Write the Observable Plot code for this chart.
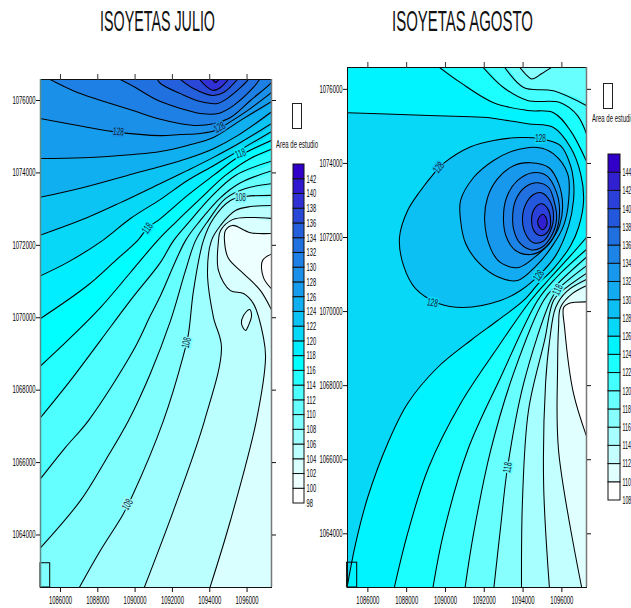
<!DOCTYPE html>
<html><head><meta charset="utf-8">
<script src="https://cdn.jsdelivr.net/npm/d3@7"></script>
<script src="https://cdn.jsdelivr.net/npm/@observablehq/plot@0.6"></script>
<style>
html,body{margin:0;padding:0;background:#fff;width:631px;height:608px;overflow:hidden;font-family:"Liberation Sans",Arial,sans-serif}
#page{position:relative;width:631px;height:608px;overflow:hidden}
#page>svg,#page>figure{position:absolute;margin:0}
.t{position:absolute;white-space:nowrap;transform-origin:left center;color:#111}
.swatch{position:absolute;box-sizing:border-box;border:1px solid #222;background:#fff}
</style></head><body><div id="page"></div>
<script>
// Map coordinates in km, as [east - 1080, north - 1060]
const xTicks=[1086000,1088000,1090000,1092000,1094000,1096000];
const yTicks=[1064000,1066000,1068000,1070000,1072000,1074000,1076000];

const julBands=[98,100,102,104,106,108,110,112,114,116,118,120,122,124,126,128,130,132,134,136,138,140,142];
const julColors=["#ffffff","#eeffff","#d9ffff","#bbffff","#9dffff","#80ffff","#66ffff","#4dffff","#26ffff","#00ffff","#00eeff","#08d8f8","#0cc4f4","#10b0f0","#169cec","#1a90e8","#1e80e4","#2070e0","#2460dc","#2a48d8","#3030d4","#3018d0","#3000c8"];
const augBands=[108,110,112,114,116,118,120,122,124,126,128,130,132,134,136,138,140,142,144];
const augColors=["#ffffff","#e0ffff","#c4ffff","#a8ffff","#88ffff","#68ffff","#44ffff","#1cffff","#00f4ff","#08d8f8","#0cc0f4","#12aaf0","#1898ec","#1c84e6","#2070e0","#2458dc","#2a40d8","#3020d0","#3000c8"];

// ---- July contours
const jul100=[[17.4,11.78],[16.83,11.58],[16.88,11.11],[17.4,10.75]];
const jul102=[[17.4,12.33],[16.18,12.35],[15.22,12.55],[14.84,12.41],[14.79,12.13],[15.00,11.64],[15.81,11.22],[16.72,10.75],[17.4,10.12]];
const jul104=[[13.92,2.4],[15.11,4.40],[16.50,7.16],[16.99,8.90],[16.88,9.45],[16.34,10.39],[15.81,10.67],[15.11,10.75],[14.47,11.30],[14.47,12.13],[14.58,12.41],[15.22,12.71],[16.18,12.77],[17.4,12.74]];
const jul106=[[10.38,2.4],[12.06,4.68],[13.72,7.16],[14.63,9.18],[14.20,10.01],[13.88,11.22],[14.09,12.13],[14.58,12.55],[15.38,12.96],[16.18,13.07],[17.4,13.10]];
const jul108=[[6.85,2.4],[8.14,3.57],[9.32,4.54],[9.86,5.09],[11.52,7.16],[12.59,8.96],[12.86,9.56],[13.13,10.75],[13.66,12.13],[14.20,12.74],[15.11,13.24],[15.92,13.35],[17.4,13.38]];
const jul110=[[4.85,3.60],[7.07,4.95],[8.41,6.06],[9.65,7.16],[10.82,8.46],[11.90,9.92],[12.70,11.30],[13.24,12.13],[13.93,12.69],[14.84,13.29],[15.92,13.57],[17.4,13.71]];
const jul112=[[4.85,5.50],[6.27,6.42],[7.50,7.16],[9.91,9.10],[10.82,10.06],[11.36,10.61],[12.70,12.13],[13.50,12.69],[14.58,13.32],[15.65,13.73],[17.4,14.07]];
const jul114=[[4.85,7.19],[6.54,8.27],[8.14,9.37],[9.75,10.48],[11.36,11.53],[12.06,12.13],[12.97,12.69],[14.04,13.32],[15.38,13.93],[17.4,14.34]];
const jul116=[[4.85,8.63],[6.54,9.45],[8.14,10.28],[9.75,11.25],[11.20,12.13],[12.16,12.63],[13.50,13.29],[14.84,13.93],[16.18,14.40],[17.4,14.67]];
const jul118=[[4.85,9.95],[7.45,10.89],[8.95,11.58],[10.13,12.13],[10.66,12.47],[11.36,12.74],[12.81,13.38],[14.20,13.93],[15.65,14.48],[17.4,14.92]];
const jul120=[[4.85,11.14],[6.38,11.53],[8.25,12.13],[9.75,12.74],[11.36,13.27],[12.81,13.79],[14.20,14.20],[15.38,14.56],[17.4,15.17]];
const jul122=[[4.85,12.27],[7.45,12.77],[9.22,13.18],[11.36,13.71],[12.81,14.07],[14.20,14.43],[15.65,14.84],[17.4,15.39]];
const jul124=[[4.85,13.32],[7.23,13.60],[9.91,13.98],[11.36,14.18],[12.81,14.40],[14.20,14.67],[15.49,15.03],[17.4,15.72]];
const jul126=[[4.85,14.40],[7.23,14.42],[9.91,14.51],[11.36,14.59],[12.81,14.76],[14.20,14.98],[15.65,15.45],[17.4,16.0]];
const jul128=[[4.85,15.51],[7.23,15.28],[8.84,15.14],[11.36,15.03],[12.43,15.06],[13.50,15.09],[14.31,15.17],[14.95,15.36],[16.02,15.72],[17.4,16.26]];
const jul130=[[5.30,16.62],[6.91,16.22],[8.68,15.92],[10.02,15.70],[11.36,15.48],[12.43,15.36],[13.34,15.31],[14.20,15.36],[15.11,15.53],[16.18,16.00],[17.31,16.50],[17.45,16.62]];
const jul132=[[9.05,16.62],[10.02,16.36],[10.82,16.11],[11.36,15.97],[12.43,15.78],[13.50,15.64],[14.47,15.64],[15.27,15.86],[16.34,16.36],[16.72,16.62]];
const jul134=[[11.15,16.62],[11.36,16.47],[12.43,16.19],[13.50,15.97],[14.42,15.92],[15.00,16.08],[16.02,16.55],[16.1,16.62]];
const jul136=[[12.33,16.62],[13.13,16.33],[14.15,16.14],[14.74,16.22],[15.55,16.62]];
const jul138=[[13.40,16.62],[13.77,16.41],[14.20,16.28],[14.58,16.36],[15.05,16.62]];
const jul140=[[14.10,16.62],[14.31,16.50],[14.55,16.62]];
const julIsland=[[16.13,10.23],[16.24,10.06],[16.08,9.79],[15.92,9.65],[15.70,9.84],[15.81,10.06]];

// ---- August contours
const aug110=[[17.48,6.33],[16.60,7.79],[16.14,9.57],[16.09,10.11],[16.35,10.22],[17.48,10.26]];
const aug112=[[17.08,2.4],[15.83,6.25],[15.78,8.49],[15.83,9.57],[15.93,10.11],[16.55,10.49],[17.48,10.75]];
const aug114=[[15.37,2.47],[15.06,5.36],[15.16,8.06],[15.37,9.22],[15.68,10.11],[16.24,10.54],[17.48,10.92]];
const aug116=[[13.92,2.47],[13.97,4.90],[14.28,7.33],[15.11,9.22],[15.57,10.30],[16.09,10.59],[17.48,11.11]];
const aug118=[[12.48,2.47],[12.84,4.17],[13.20,5.79],[14.03,8.06],[15.42,10.30],[15.78,10.59],[17.48,11.32]];
const aug120=[[10.99,2.47],[11.45,4.01],[12.33,6.25],[13.51,8.33],[15.06,10.30],[15.78,10.75],[17.48,11.57]];
const aug122=[[9.33,2.47],[9.90,4.01],[11.14,6.25],[12.84,8.22],[14.75,10.30],[15.68,10.90],[17.48,11.78]];
const aug124=[[7.33,2.47],[8.05,4.01],[9.13,5.79],[10.78,7.52],[12.69,9.03],[14.39,10.30],[15.42,10.92],[16.45,11.51],[17.48,12.13]];
const aug118Top=[[13.72,16.67],[14.15,16.40],[14.45,16.28],[14.95,16.42],[15.68,16.67]];
const aug120Top=[[17.48,15.50],[15.57,15.96],[14.03,16.05],[12.95,16.67]];
const aug122Top=[[17.48,14.48],[16.81,15.29],[15.93,15.64],[14.23,15.70],[12.99,16.05],[11.81,16.67]];
const aug124Top=[[17.48,13.81],[16.45,14.88],[15.57,15.37],[14.23,15.43],[12.48,15.64],[10.78,16.18],[9.49,16.67]];
const aug126=[[4.85,15.37],[7.69,15.32],[11.30,15.26],[12.17,15.24],[14.23,15.07],[15.57,14.97],[16.45,14.43],[16.97,13.72],[17.12,13.00],[16.86,12.27],[16.45,11.78],[15.57,11.16],[14.80,10.76],[14.03,10.30],[12.69,9.76],[11.30,9.22],[9.59,8.49],[8.05,7.52],[7.02,6.44],[5.99,4.98],[5.37,3.74],[4.90,2.47]];
const aug128=[[14.90,14.67],[15.93,14.48],[16.45,13.94],[16.60,13.54],[16.60,13.00],[16.35,12.32],[15.68,11.51],[14.80,10.97],[13.87,10.57],[12.84,10.30],[10.93,10.11],[9.65,10.22],[8.46,10.62],[7.84,11.24],[7.63,12.00],[8.05,12.73],[8.72,13.27],[9.39,13.72],[9.90,14.00],[11.30,14.45],[12.48,14.62],[13.87,14.70]];
const aug130=[[14.75,14.43],[15.57,14.26],[16.30,13.72],[16.35,13.00],[16.09,12.32],[15.52,11.78],[14.65,11.22],[13.72,10.84],[12.69,10.94],[11.71,11.32],[11.04,11.84],[10.78,12.46],[10.78,13.00],[11.45,13.62],[12.48,14.08],[13.51,14.34]];
const aug132=[[12.02,12.46],[12.17,13.08],[12.69,13.59],[13.51,13.94],[14.39,14.02],[15.32,13.89],[15.83,13.46],[16.04,12.86],[15.88,12.32],[15.42,11.89],[14.65,11.49],[13.77,11.19],[12.84,11.32],[12.33,11.70]];
const aug134=[[12.99,12.46],[13.15,13.08],[13.72,13.54],[14.49,13.75],[15.21,13.67],[15.73,13.21],[15.88,12.67],[15.68,12.13],[15.16,11.73],[14.39,11.54],[13.61,11.65],[13.15,12.00]];
const aug136=[[13.46,12.46],[13.61,13.00],[14.13,13.37],[14.75,13.48],[15.32,13.35],[15.62,12.94],[15.73,12.51],[15.47,12.05],[14.95,11.73],[14.39,11.67],[13.82,11.86],[13.56,12.13]];
const aug138=[[13.97,12.46],[14.13,12.89],[14.54,13.16],[14.95,13.21],[15.37,13.00],[15.57,12.62],[15.42,12.19],[15.01,11.89],[14.54,11.86],[14.18,12.05]];
const aug140=[[14.44,12.46],[14.59,12.78],[14.95,12.91],[15.27,12.78],[15.42,12.46],[15.32,12.19],[14.95,12.05],[14.59,12.16]];
const aug142=[[14.75,12.43],[14.85,12.56],[15.01,12.63],[15.16,12.56],[15.24,12.40],[15.16,12.27],[15.01,12.21],[14.85,12.27]];

// contour labels: east, north, text, angle, band behind
const julLabelX=[9.11,14.52,10.66,15.65,15.65,12.75,9.59];
const julLabelY=[15.14,15.26,12.47,14.54,13.32,9.31,4.84];
const julLabelT=["128","128","118","118","108","108","108"];
const julLabelR=[4,-28,-55,-20,0,-75,-60];
const julLabelB=[128,128,118,118,108,108,106];
const augLabelX=[14.90,9.65,9.33,14.80,15.78,13.20];
const augLabelY=[14.67,13.89,10.24,10.97,10.59,5.79];
const augLabelT=["128","128","128","128","118","118"];
const augLabelR=[0,-50,10,-55,-65,-80];
const augLabelB=[126,128,126,126,118,118];

const studyArea=[4.93,5.45,2.55,3.22];
const julDomainX=[4.93,17.31], julDomainY=[2.55,16.58];
const augDomainX=[4.95,17.27], augDomainY=[2.55,16.59];

// far corners outside the frame, used to close the filled regions
const B=[18.5,17.5],A=[4,17.5],D=[4,2];

const E=d=>(1080+d)*1000, N=d=>(1060+d)*1000;
function rows(list){ // list of {band, pts}
  const out=[];
  list.forEach((c,i)=>c.pts.forEach(p=>out.push({x:E(p[0]),y:N(p[1]),id:i,band:c.band})));
  return out;
}
const q=(band,...parts)=>({band,pts:parts.flat()});

function panel(o){
  const fx={x:"x",y:"y",z:"id"};
  const svg=Plot.plot({
    width:o.width,height:608,
    marginLeft:o.ml,marginRight:o.mr,marginTop:o.mt,marginBottom:21,
    style:{background:"transparent",overflow:"visible",fontFamily:"Liberation Sans",fontSize:"10px"},
    x:{domain:o.dx.map(E)},
    y:{domain:o.dy.map(N)},
    color:{type:"ordinal",domain:o.bands,range:o.colors},
    marks:[
      Plot.rect([o.baseBand],{x1:E(o.dx[0]),x2:E(o.dx[1]),y1:N(o.dy[0]),y2:N(o.dy[1]),fill:d=>d}),
      Plot.line(rows(o.fills),{...fx,fill:"band",stroke:"none",curve:"catmull-rom",clip:true}),
      Plot.line(rows(o.closedFills),{...fx,fill:"band",stroke:"none",curve:"catmull-rom-closed",clip:true}),
      Plot.line(rows(o.lines.map(pts=>({band:0,pts}))),{...fx,stroke:"#000",strokeWidth:1.05,curve:"catmull-rom",clip:true}),
      Plot.line(rows(o.closedFills.map(c=>({band:0,pts:c.pts}))),{...fx,stroke:"#000",strokeWidth:1.05,curve:"catmull-rom-closed",clip:true}),
      Plot.text(o.labels,{x:d=>E(d.x),y:d=>N(d.y),text:"t",rotate:"r",fill:"#123",stroke:"b",strokeWidth:4,fontSize:11}),
      Plot.rect([studyArea],{x1:d=>E(d[0]),x2:d=>E(d[1]),y1:d=>N(d[2]),y2:d=>N(d[3]),stroke:"#000",fill:"none"}),
      Plot.frame({stroke:"#111"}),
      Plot.ruleX([E(o.dx[1])],{stroke:"#777",strokeWidth:1.5}),
      ...(o.grayLeft?[Plot.ruleX([E(o.dx[0])],{stroke:"#5a8a8a",strokeWidth:1.5})]:[]),
      Plot.axisX({anchor:"bottom",ticks:xTicks,tickSize:5,tickPadding:4,label:null,tickFormat:d=>String(d),stroke:"#111"}),
      Plot.axisX({anchor:"top",ticks:xTicks,tickSize:6,label:null,text:null,stroke:"#333"}),
      Plot.axisY({anchor:"left",ticks:yTicks,tickSize:4,tickPadding:1,label:null,tickFormat:d=>String(d),stroke:"#111"}),
      Plot.axisY({anchor:"right",ticks:yTicks,tickSize:4,label:null,text:null,stroke:"#111"})
    ]
  });
  svg.style.left=o.left+"px";svg.style.top="0px";
  return svg;
}
function colorbar(o){
  const svg=Plot.plot({
    width:o.width,height:608,
    marginLeft:3,marginRight:o.mr,marginTop:o.top,marginBottom:608-o.bottom,
    style:{background:"transparent",overflow:"visible",fontFamily:"Liberation Sans",fontSize:"10.5px"},
    x:{domain:[0,1],axis:null},
    y:{domain:[o.bands[0],o.bands[o.bands.length-1]+2]},
    color:{type:"ordinal",domain:o.bands,range:o.colors},
    marks:[
      Plot.rect(o.bands,{x1:0,x2:1,y1:d=>d,y2:d=>d+2,fill:d=>d,stroke:"#111",strokeWidth:1}),
      Plot.axisY({anchor:"right",ticks:o.bands,tickSize:0,tickPadding:2,label:null,tickFormat:d=>String(d)})
    ]
  });
  svg.style.left=o.left+"px";svg.style.top="0px";
  return svg;
}
function squeeze(svg,ratio){
  svg.querySelectorAll("text").forEach(t=>{
    const l=t.getComputedTextLength();
    if(l>0){t.setAttribute("textLength",(l*ratio).toFixed(1));t.setAttribute("lengthAdjust","spacingAndGlyphs");}
  });
}
const page=document.getElementById("page");
function label(text,x,yc,size,targetW){
  const s=document.createElement("span");s.className="t";s.textContent=text;
  s.style.fontSize=size+"px";s.style.left=x+"px";s.style.lineHeight=size+"px";s.style.top=(yc-size/2)+"px";
  page.appendChild(s);
  s.style.transform=`scaleX(${targetW/s.getBoundingClientRect().width})`;
}
function swatch(x,y,w,h){
  const d=document.createElement("div");d.className="swatch";
  Object.assign(d.style,{left:x+"px",top:y+"px",width:w+"px",height:h+"px"});
  page.appendChild(d);
}
const labs=(X,Y,T,R,Bd)=>X.map((x,i)=>({x,y:Y[i],t:T[i],r:R[i],b:Bd[i]}));

const julSvg=panel({
  left:0,width:317,ml:40,mr:46,mt:79,dx:julDomainX,dy:julDomainY,grayLeft:true,
  bands:julBands,colors:julColors,baseBand:102,
  fills:[q(100,jul102),q(98,jul100),
    q(104,jul104,[B,A,D]),q(106,jul106,[B,A,D]),q(108,jul108,[B,A,D]),
    q(110,jul110,[B,A]),q(112,jul112,[B,A]),q(114,jul114,[B,A]),q(116,jul116,[B,A]),q(118,jul118,[B,A]),
    q(120,jul120,[B,A]),q(122,jul122,[B,A]),q(124,jul124,[B,A]),q(126,jul126,[B,A]),q(128,jul128,[B,A]),
    q(130,jul130),q(132,jul132),q(134,jul134),q(136,jul136),q(138,jul138),q(140,jul140)],
  closedFills:[q(102,julIsland)],
  lines:[jul100,jul102,jul104,jul106,jul108,jul110,jul112,jul114,jul116,jul118,jul120,jul122,jul124,jul126,jul128,jul130,jul132,jul134,jul136,jul138,jul140],
  labels:labs(julLabelX,julLabelY,julLabelT,julLabelR,julLabelB)
});
const join=[18.3,13];
const augSvg=panel({
  left:317,width:314,ml:30,mr:45,mt:67,dx:augDomainX,dy:augDomainY,
  bands:augBands,colors:augColors,baseBand:110,
  fills:[q(108,aug110),q(112,aug112,[B,A,D]),q(114,aug114,[B,A,D]),q(116,aug116,[B,A,D]),q(118,aug118,[B,A,D]),q(116,aug118Top),
    q(120,aug120,[join],aug120Top,[A,D]),q(122,aug122,[join],aug122Top,[A,D]),q(124,aug124,[join],aug124Top,[A,D]),q(126,aug126)],
  closedFills:[q(128,aug128),q(130,aug130),q(132,aug132),q(134,aug134),q(136,aug136),q(138,aug138),q(140,aug140),q(142,aug142)],
  lines:[aug110,aug112,aug114,aug116,aug118,aug120,aug122,aug124,aug118Top,aug120Top,aug122Top,aug124Top,aug126],
  labels:labs(augLabelX,augLabelY,augLabelT,augLabelR,augLabelB)
});
const julBar=colorbar({left:290,width:30,mr:16,top:164,bottom:503,bands:julBands,colors:julColors});
const augBar=colorbar({left:605,width:30,mr:15,top:154,bottom:500,bands:augBands,colors:augColors});
[julSvg,augSvg,julBar,augBar].forEach(s=>page.appendChild(s));
squeeze(julSvg,0.59);squeeze(augSvg,0.59);squeeze(julBar,0.55);squeeze(augBar,0.5);

label("ISOYETAS JULIO",100,21,29,115);
label("ISOYETAS AGOSTO",392,21,29,141);
swatch(292,103,10,26);
swatch(603,83,10,26);
label("Area de estudio",275.5,145,10,42);
label("Area de estudio",591.5,119,10,42);
</script></body></html>
